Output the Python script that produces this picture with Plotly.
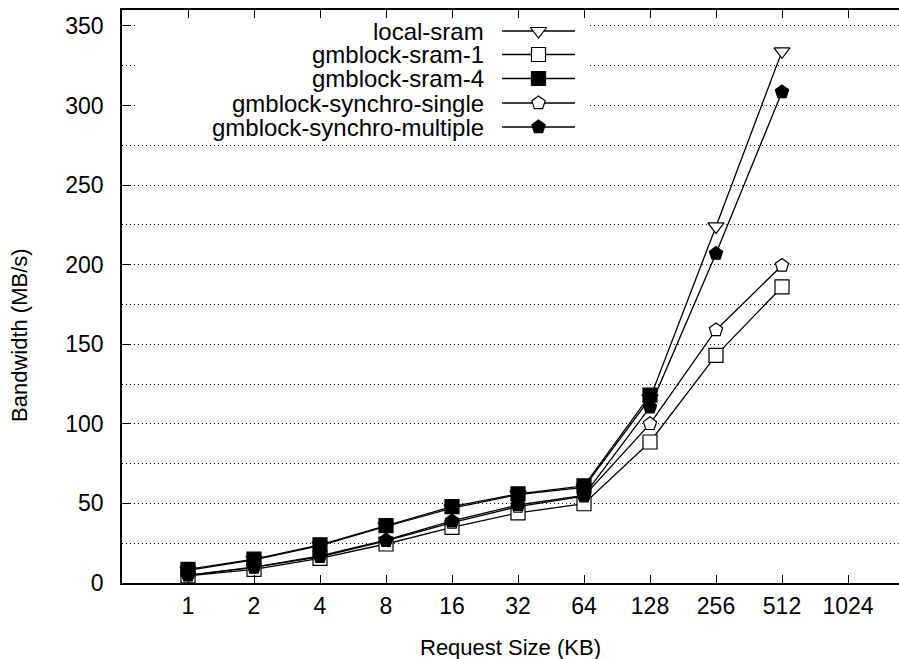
import plotly.graph_objects as go
import math

sizes = [1, 2, 4, 8, 16, 32, 64, 128, 256, 512]
tick_vals = [1, 2, 4, 8, 16, 32, 64, 128, 256, 512, 1024]
tick_text = ["1", "2", "4", "8", "16", "32", "64", "128", "256", "512", "1024"]

local_sram = [8.0, 14.5, 23.5, 35.5, 47.0, 55.5, 60.0, 116.0, 224.0, 334.0]
gmblock_sram_1 = [4.5, 8.5, 15.5, 24.5, 35.0, 44.0, 49.8, 88.6, 143.0, 186.0]
gmblock_sram_4 = [8.5, 15.0, 24.0, 36.0, 48.0, 56.0, 61.0, 118.0]
synchro_single = [4.8, 9.8, 16.5, 26.5, 38.0, 48.0, 54.5, 100.0, 159.0, 199.5]
synchro_multiple = [5.0, 10.0, 17.0, 27.0, 39.0, 49.0, 55.0, 110.5, 207.0, 308.5]

names = ["local-sram", "gmblock-sram-1", "gmblock-sram-4",
         "gmblock-synchro-single", "gmblock-synchro-multiple"]
series = [local_sram, gmblock_sram_1, gmblock_sram_4, synchro_single, synchro_multiple]
symbols = ["triangle-down", "square", "square", "pentagon", "pentagon"]
fills = ["white", "white", "black", "white", "black"]
msizes = [14, 14, 14, 14, 14]

W, H = 899, 659
L, R, T, B = 122, 0, 10, 76
FONT = "Liberation Sans, Arial, sans-serif"
GRID_DASH = "1px,3px"

fig = go.Figure()
for name, vals, sym, fc, ms in zip(names, series, symbols, fills, msizes):
    fig.add_trace(go.Scatter(
        x=sizes[:len(vals)], y=vals, mode="lines+markers", name=name,
        line=dict(color="black", width=1.3),
        marker=dict(symbol=sym, size=ms, color=fc, line=dict(color="black", width=1.2)),
        showlegend=False, xaxis="x", yaxis="y"))

row_px = [31, 54.5, 78.5, 103, 127]
plot_w = W - L - R
plot_h = H - T - B
def px_to_x(px):
    return (px - L) / plot_w
def py_to_y(py):
    return (H - B - py) / plot_h

# white key box hiding the grid behind the legend (overlay axes, drawn above grid)
kx0, kx1 = px_to_x(137), px_to_x(587)
ky0, ky1 = py_to_y(135), py_to_y(13)
fig.add_trace(go.Scatter(
    x=[kx0, kx1, kx1, kx0, kx0], y=[ky0, ky0, ky1, ky1, ky0],
    mode="lines", fill="toself", fillcolor="white", line=dict(width=0, color="white"),
    showlegend=False, xaxis="x2", yaxis="y2", hoverinfo="skip"))

for i, (name, sym, fc, ms) in enumerate(zip(names, symbols, fills, msizes)):
    yy = py_to_y(row_px[i])
    fig.add_trace(go.Scatter(
        x=[px_to_x(502), px_to_x(575)], y=[yy, yy], mode="lines",
        line=dict(color="black", width=1.3), showlegend=False,
        xaxis="x2", yaxis="y2", hoverinfo="skip"))
    fig.add_trace(go.Scatter(
        x=[px_to_x(538.5)], y=[yy], mode="markers",
        marker=dict(symbol=sym, size=ms, color=fc, line=dict(color="black", width=1.2)),
        showlegend=False, xaxis="x2", yaxis="y2", hoverinfo="skip"))
    fig.add_annotation(x=px_to_x(486), y=yy, xref="x2", yref="y2", text=name,
                       showarrow=False, xanchor="right", yanchor="middle",
                       font=dict(family=FONT, size=24, color="black"))

x_lo = 0.5
x_hi = 2 ** ((W - L) / 66.0 - 1)

fig.update_layout(
    width=W, height=H, margin=dict(l=L, r=R, t=T, b=B),
    paper_bgcolor="white", plot_bgcolor="white",
    font=dict(family=FONT, size=23, color="black"),
    showlegend=False,
    xaxis=dict(type="log", range=[math.log10(x_lo), math.log10(x_hi)],
               tickvals=tick_vals, ticktext=tick_text,
               ticks="inside", ticklen=8, tickwidth=1, tickcolor="black",
               showline=True, linecolor="black", linewidth=1.5, mirror="ticks",
               showgrid=False, zeroline=False, ticklabelstandoff=2,
               tickfont=dict(family=FONT, size=23)),
    yaxis=dict(range=[0, 360], tickvals=[0, 50, 100, 150, 200, 250, 300, 350],
               ticks="inside", ticklen=8, tickwidth=1, tickcolor="black",
               showline=True, linecolor="black", linewidth=1.5, mirror=False,
               showgrid=True, gridcolor="black", griddash=GRID_DASH, gridwidth=1,
               minor=dict(tickvals=[25, 75, 125, 175, 225, 275, 325], showgrid=True,
                          gridcolor="black", griddash=GRID_DASH, gridwidth=1, ticks=""),
               zeroline=False, ticklabelstandoff=12,
               tickfont=dict(family=FONT, size=23)),
    xaxis2=dict(overlaying="x", range=[0, 1], visible=False, fixedrange=True),
    yaxis2=dict(overlaying="y", range=[0, 1], visible=False, fixedrange=True),
)

fig.add_annotation(x=px_to_x(510), y=py_to_y(647), xref="paper", yref="paper",
                   text="Request Size (KB)", showarrow=False,
                   xanchor="center", yanchor="middle",
                   font=dict(family=FONT, size=22))
fig.add_annotation(x=px_to_x(19), y=py_to_y(335), xref="paper", yref="paper",
                   text="Bandwidth (MB/s)", showarrow=False, textangle=-90,
                   xanchor="center", yanchor="middle",
                   font=dict(family=FONT, size=22))

fig.write_html("out.html", config={"displayModeBar": False})
